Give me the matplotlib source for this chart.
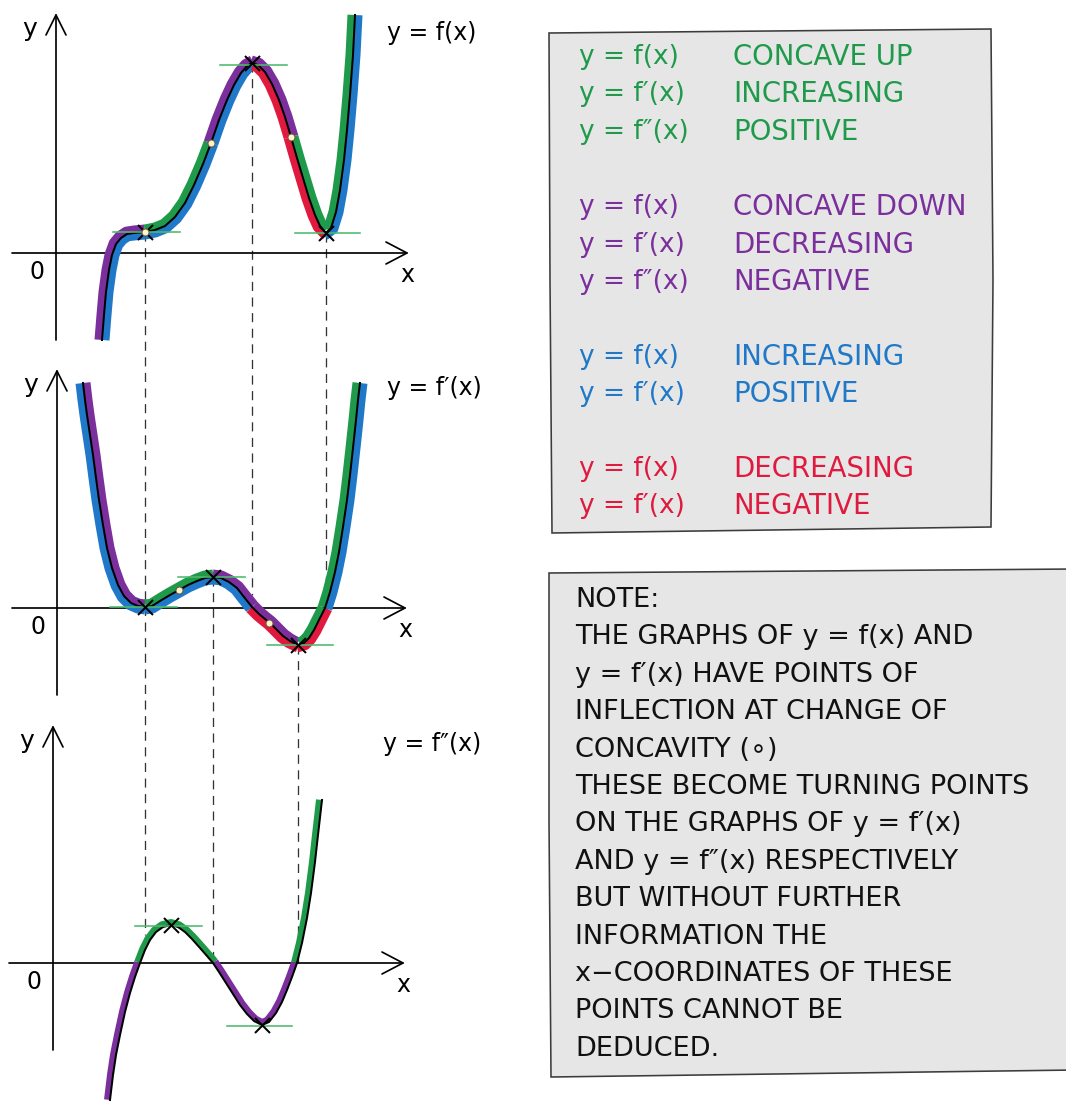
import numpy as np
import matplotlib
matplotlib.use("Agg")
import matplotlib.pyplot as plt
from matplotlib.patches import Polygon

W, H = 1066, 1102
PX = 0.72  # points per pixel at dpi 100

GREEN = "#1f9a4a"
PURPLE = "#7b2f9c"
BLUE = "#1f78c8"
RED = "#e01a3f"
TANGENT = "#4cbb6c"

# curve y = f(x) (pixel units)
F_X = [102, 104, 106, 109, 112, 116, 121, 127, 134, 145, 155, 165, 175, 185, 194,
       203, 211, 219, 227, 234, 241, 247, 252, 258, 265, 272, 279, 285, 291, 297,
       303, 309, 315, 320, 326, 331, 336, 340, 344, 347, 350, 353, 355]
F_Y = [340, 315, 292, 270, 255, 244, 238, 234, 233, 232, 230, 226, 217, 203, 185,
       164, 143, 120, 100, 85, 73, 66, 63, 65, 72, 84, 100, 117, 137, 158,
       178, 198, 215, 226, 233, 228, 212, 190, 160, 130, 95, 55, 15]
# (x from, x to, top colour, bottom colour)
F_SEGS = [(102, 145, PURPLE, BLUE), (145, 211, GREEN, BLUE), (211, 252, PURPLE, BLUE),
          (252, 291, PURPLE, RED), (291, 326, GREEN, RED), (326, 355, GREEN, BLUE)]

# curve y = f'(x)
D1_X = [83, 85, 87, 90, 93, 96, 99, 103, 107, 112, 118, 124, 131, 138, 145, 152,
        160, 170, 179, 188, 197, 205, 213, 221, 229, 237, 244, 252, 259, 265, 270,
        276, 283, 290, 298, 304, 309, 314, 319, 325, 330, 335, 339, 343, 347, 350,
        353, 356, 358, 360]
D1_Y = [383, 400, 415, 435, 455, 478, 500, 525, 548, 568, 585, 596, 603, 606, 607, 606,
        601, 595, 590, 585, 581, 578, 577, 578, 582, 588, 597, 607, 614, 619, 623,
        629, 636, 641, 645, 643, 638, 630, 620, 608, 592, 572, 552, 527, 500, 475,
        448, 420, 400, 383]
D1_SEGS = [(83, 145, PURPLE, BLUE), (145, 213, GREEN, BLUE), (213, 252, PURPLE, BLUE),
           (252, 298, PURPLE, RED), (298, 325, GREEN, RED), (325, 360, GREEN, BLUE)]

# curve y = f''(x)
D2_X = [110, 113, 116, 120, 125, 130, 135, 140, 145, 150, 156, 163, 171, 178, 185,
        192, 200, 207, 213, 219, 226, 233, 240, 247, 254, 262, 269, 276, 282, 287,
        292, 297, 302, 307, 311, 315, 318, 322]
D2_Y = [1100, 1075, 1055, 1035, 1012, 993, 977, 963, 950, 940, 932, 927, 925, 927, 932,
        939, 948, 956, 963, 972, 983, 994, 1005, 1014, 1021, 1025, 1022, 1013, 1002, 990,
        977, 963, 943, 918, 893, 862, 835, 800]
D2_SEGS = [(110, 140, PURPLE), (140, 213, GREEN), (213, 297, PURPLE), (297, 322, GREEN)]

# axes of the three graphs
AX_X0 = [56, 57, 53]
AX_Y0 = [253, 608, 963]
AX_LEFT = [12, 12, 9]
AX_RIGHT = [407, 405, 403]
AX_TOP = [15, 371, 727]
AX_BOTTOM = [340, 695, 1050]
CURVE_LABELS = ["y = f(x)", "y = f′(x)", "y = f″(x)"]
CURVE_LABEL_X = [387, 387, 383]
CURVE_LABEL_Y = [33, 388, 744]

# turning points (x markers), inflection points (dots), horizontal tangents
CROSS_X = [145, 252, 326, 145, 213, 298, 171, 262]
CROSS_Y = [232, 63, 233, 607, 577, 645, 925, 1025]
DOT_X = [145, 211, 291, 179, 269]
DOT_Y = [232, 143, 137, 590, 623]
TAN_X0 = [113, 220, 295, 110, 178, 267, 135, 227]
TAN_X1 = [180, 287, 360, 177, 245, 333, 202, 292]
TAN_Y = [232, 65, 233, 607, 577, 645, 926, 1026]

# vertical dashed guides
DASH_X = [145, 252, 326, 213, 298]
DASH_TOP = [232, 63, 233, 577, 645]
DASH_BOT = [935, 595, 602, 963, 963]

LEG_LEFT = ["y = f(x)", "y = f′(x)", "y = f″(x)",
            "y = f(x)", "y = f′(x)", "y = f″(x)",
            "y = f(x)", "y = f′(x)",
            "y = f(x)", "y = f′(x)"]
LEG_RIGHT = ["CONCAVE UP", "INCREASING", "POSITIVE",
             "CONCAVE DOWN", "DECREASING", "NEGATIVE",
             "INCREASING", "POSITIVE",
             "DECREASING", "NEGATIVE"]
LEG_COLORS = [GREEN] * 3 + [PURPLE] * 3 + [BLUE] * 2 + [RED] * 2
LEG_Y = [57, 94, 132, 207, 245, 282, 357, 394, 469, 506]

NOTE_LINES = ["NOTE:",
              "THE GRAPHS OF y = f(x) AND",
              "y = f′(x) HAVE POINTS OF",
              "INFLECTION AT CHANGE OF",
              "CONCAVITY (∘)",
              "THESE BECOME TURNING POINTS",
              "ON THE GRAPHS OF y = f′(x)",
              "AND y = f″(x) RESPECTIVELY",
              "BUT WITHOUT FURTHER",
              "INFORMATION THE",
              "x−COORDINATES OF THESE",
              "POINTS CANNOT BE",
              "DEDUCED."]
NOTE_Y0 = 600
NOTE_STEP = 37.4

plt.rcParams["font.family"] = ["DejaVu Sans"]

fig = plt.figure(figsize=(W / 100, H / 100), dpi=100)
ax = fig.add_axes([0, 0, 1, 1])
ax.set_xlim(0, W)
ax.set_ylim(H, 0)
ax.axis("off")


def offset(xs, ys, d):
    x = np.asarray(xs, float)
    y = np.asarray(ys, float)
    dx = np.gradient(x)
    dy = np.gradient(y)
    n = np.hypot(dx, dy)
    # normal pointing to the "upper" side of the curve
    return x + dy / n * d, y - dx / n * d


def two_band_curve(xs, ys, segs, band=7.5):
    x = np.asarray(xs)
    tx, ty = offset(xs, ys, band / 2)
    bx, by = offset(xs, ys, -band / 2)
    for x0, x1, top, bot in segs:
        m = (x >= x0) & (x <= x1)
        ax.plot(bx[m], by[m], color=bot, lw=band * PX, solid_capstyle="butt",
                solid_joinstyle="round", zorder=3)
        ax.plot(tx[m], ty[m], color=top, lw=band * PX, solid_capstyle="butt",
                solid_joinstyle="round", zorder=3)
    ax.plot(xs, ys, color="black", lw=2 * PX, solid_joinstyle="round", zorder=4)


def one_band_curve(xs, ys, segs, band=6):
    x = np.asarray(xs)
    tx, ty = offset(xs, ys, band / 2)
    for x0, x1, col in segs:
        m = (x >= x0) & (x <= x1)
        ax.plot(tx[m], ty[m], color=col, lw=band * PX, solid_capstyle="butt",
                solid_joinstyle="round", zorder=3)
    ax.plot(xs, ys, color="black", lw=2 * PX, solid_joinstyle="round", zorder=4)


# boxes
legend_box = [(549, 33), (991, 29), (993, 280), (991, 527), (552, 533), (550, 280)]
note_box = [(549, 573), (1075, 569), (1075, 1070), (551, 1077), (549, 820)]
for pts in (legend_box, note_box):
    ax.add_patch(Polygon(pts, closed=True, facecolor="#e6e6e6",
                         edgecolor="#3c3c3c", lw=1.6 * PX, zorder=1))

# dashed guides
for x, y0, y1 in zip(DASH_X, DASH_TOP, DASH_BOT):
    ax.plot([x, x], [y0, y1], color="#333333", lw=1.3 * PX,
            dashes=(7, 5), zorder=2)

# axes
for i in range(3):
    x0, y0 = AX_X0[i], AX_Y0[i]
    r, t = AX_RIGHT[i], AX_TOP[i]
    kw = dict(color="black", lw=1.7 * PX, zorder=2, solid_capstyle="round")
    ax.plot([AX_LEFT[i], r], [y0, y0], **kw)
    ax.plot([x0, x0], [AX_BOTTOM[i], t], **kw)
    ax.plot([r - 21, r, r - 21], [y0 - 11, y0, y0 + 11], **kw)
    ax.plot([x0 - 10, x0, x0 + 10], [t + 20, t, t + 20], **kw)
    ax.text(x0 - 26, t + 14, "y", fontsize=18, ha="center", va="center")
    ax.text(x0 - 19, y0 + 19, "0", fontsize=17, ha="center", va="center")
    ax.text(r, y0 + 22, "x", fontsize=17, ha="center", va="center")
    ax.text(CURVE_LABEL_X[i], CURVE_LABEL_Y[i], CURVE_LABELS[i], fontsize=17,
            ha="left", va="center")

two_band_curve(F_X, F_Y, F_SEGS)
two_band_curve(D1_X, D1_Y, D1_SEGS)
one_band_curve(D2_X, D2_Y, D2_SEGS)

for x0, x1, y in zip(TAN_X0, TAN_X1, TAN_Y):
    ax.plot([x0, x1], [y, y], color=TANGENT, lw=1.6 * PX, zorder=5)
ax.plot(CROSS_X, CROSS_Y, ls="none", marker="x", ms=15 * PX, mew=2 * PX,
        color="black", zorder=6)
ax.plot(DOT_X, DOT_Y, ls="none", marker="o", ms=7 * PX, mew=1 * PX,
        mfc="#fff4cc", mec="#6b5a35", zorder=7)

# legend text
for left, right, col, y in zip(LEG_LEFT, LEG_RIGHT, LEG_COLORS, LEG_Y):
    ax.text(579, y, left, color=col, fontsize=19, ha="left", va="center", zorder=8)
    ax.text(733, y, right, color=col, fontsize=19.8, ha="left", va="center", zorder=8)

# note text
for i, line in enumerate(NOTE_LINES):
    ax.text(575, NOTE_Y0 + i * NOTE_STEP, line, color="#111111", fontsize=19.5,
            ha="left", va="center", zorder=8)

fig.savefig("out.png", dpi=100)
